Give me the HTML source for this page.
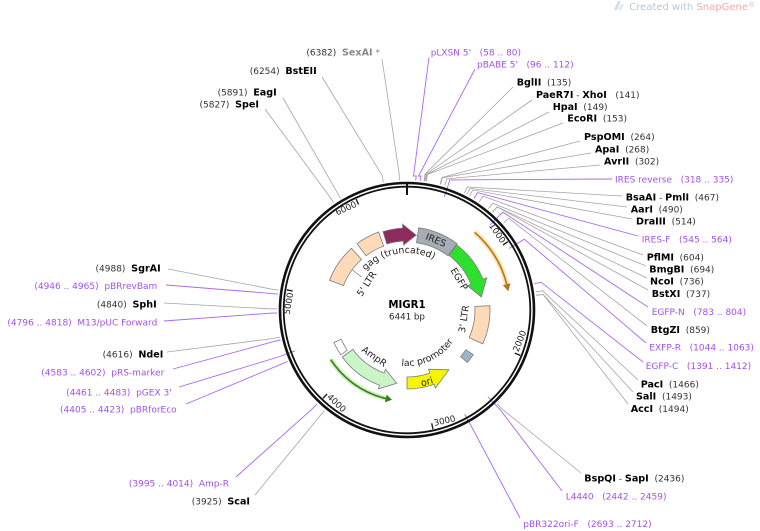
<!DOCTYPE html>
<html>
<head>
<meta charset="utf-8">
<style>
html,body{margin:0;padding:0;background:#fff;}
svg{display:block;}
text{font-family:"DejaVu Sans","Liberation Sans",sans-serif;}
.n{font-size:9px;fill:#333;}
.b{font-size:9.6px;font-weight:bold;fill:#000;}
.p{font-size:9px;fill:#a152e6;}
.gl{fill:none;stroke:#a4a4a4;stroke-width:0.8;}
.pl{fill:none;stroke:#ad66ee;stroke-width:0.9;}
.tk{font-size:8.7px;fill:#222;}
.fl{font-size:9.4px;fill:#222;}
.feat{stroke:#7c7c7c;stroke-width:0.8;}
</style>
</head>
<body>
<svg width="760" height="531" viewBox="0 0 760 531" xmlns="http://www.w3.org/2000/svg">
<rect width="760" height="531" fill="#fff"/>

<!-- SnapGene watermark -->
<polygon points="614,10 618,1 621,1 617,10" fill="#cfe0ec"/>
<polygon points="618,10 622,4 624,4 621,10" fill="#dbe8f1"/>
<text x="629.3" y="10" style="font-size:10px"><tspan fill="#b7c9d7">Created with </tspan><tspan fill="#f2abab">SnapGene</tspan><tspan fill="#b7c9d7" style="font-size:7px" dy="-3">®</tspan></text>

<!-- leader lines: gray -->
<polyline class="gl" points="513,87 425.0,174.2 424.1,181.1"/>
<polyline class="gl" points="532,100 425.8,174.3 424.8,181.2"/>
<polyline class="gl" points="549,112 426.8,174.4 425.8,181.4"/>
<polyline class="gl" points="563,123 427.4,174.5 426.3,181.4"/>
<polyline class="gl" points="580,141 441.9,177.5 440.1,184.3"/>
<polyline class="gl" points="591,153 442.4,177.7 440.6,184.4"/>
<polyline class="gl" points="600,165 446.8,178.9 444.7,185.6"/>
<polyline class="gl" points="622,196 467.3,187.0 464.2,193.3"/>
<polyline class="gl" points="627,207 470.0,188.4 466.8,194.6"/>
<polyline class="gl" points="632,219 472.8,189.9 469.5,196.0"/>
<polyline class="gl" points="643,255 483.1,196.1 479.2,201.9"/>
<polyline class="gl" points="646,266 492.8,203.2 488.4,208.7"/>
<polyline class="gl" points="647,278 497.1,206.8 492.5,212.1"/>
<polyline class="gl" points="648,290 497.2,206.9 492.6,212.2"/>
<polyline class="gl" points="647,326 508.8,218.3 503.6,223.0"/>
<polyline class="gl" points="638,380 542.6,290.8 535.7,291.8"/>
<polyline class="gl" points="633,392 543.1,294.4 536.2,295.2"/>
<polyline class="gl" points="628,404 543.1,294.5 536.2,295.3"/>
<polyline class="gl" points="581,473 501.9,408.8 497.0,403.8"/>
<polyline class="gl" points="382,59 399.1,173.2 399.5,180.2"/>
<polyline class="gl" points="322,77 382.1,175.3 383.4,182.2"/>
<polyline class="gl" points="283,98 337.0,192.2 340.5,198.3"/>
<polyline class="gl" points="265,109 329.8,196.9 333.7,202.6"/>
<polyline class="gl" points="168,269 271.6,289.1 278.5,290.1"/>
<polyline class="gl" points="164,303 270.0,308.8 277.0,308.8"/>
<polyline class="gl" points="167,352 273.0,338.5 279.8,337.1"/>
<polyline class="gl" points="255,495 320.1,415.9 324.5,410.5"/>

<!-- leader lines: purple (primers) -->
<polyline class="pl" points="429,57.5 413.5,176 416.2,176 415.7,180.3"/>
<polyline class="pl" points="475,69 418.5,176 421,176 420.2,180.7"/>
<polyline class="pl" points="612,179 449.9,179.9 444.3,196.9"/>
<polyline class="pl" points="638,236 477.6,192.6 474.0,198.6"/>
<polyline class="pl" points="648,307 502.8,212.1 490.2,224.9"/>
<polyline class="pl" points="646,343 524.3,239.2 508.9,248.5"/>
<polyline class="pl" points="643,362 541.2,282.3 534.3,283.7"/>
<polyline class="pl" points="562,491 500.5,410.1 488.2,397.0"/>
<polyline class="pl" points="520,518 473.3,429.9 464.6,414.1"/>
<polyline class="pl" points="166,285 271.0,293.4 278.0,294.2"/>
<polyline class="pl" points="164,321 270.0,313.2 277.0,313.0"/>
<polyline class="pl" points="173,369 273.7,341.6 280.5,340.0"/>
<polyline class="pl" points="179,387 278.3,357.0 295.2,350.8"/>
<polyline class="pl" points="186,404 281.2,364.2 287.6,361.4"/>
<polyline class="pl" points="236,477 312.2,408.9 317.0,403.8"/>

<!-- backbone -->
<circle cx="407" cy="310" r="127" fill="none" stroke="#111" stroke-width="2.6"/>
<circle cx="407" cy="310" r="123.3" fill="none" stroke="#111" stroke-width="1.8"/>
<line x1="407" y1="183" x2="407" y2="195" stroke="#111" stroke-width="2"/>

<!-- ticks -->
<g stroke="#222" stroke-width="1.4">
<line x1="508.0" y1="241.6" x2="503.0" y2="245.0"/>
<line x1="520.3" y1="355.3" x2="514.7" y2="353.1"/>
<line x1="433.0" y1="429.2" x2="431.7" y2="423.3"/>
<line x1="322.9" y1="398.4" x2="327.1" y2="394.0"/>
<line x1="286.7" y1="289.9" x2="292.6" y2="290.9"/>
<line x1="356.1" y1="199.1" x2="358.6" y2="204.6"/>
</g>
<text class="tk" transform="translate(502.2,245.5) rotate(55.89)" text-anchor="end" x="-2">1000</text>
<text class="tk" transform="translate(517.5,354.2) rotate(-68.22)" x="2">2000</text>
<text class="tk" transform="translate(432.4,426.3) rotate(-12.32)" x="2">3000</text>
<text class="tk" transform="translate(325.0,396.2) rotate(43.57)" x="2">4000</text>
<text class="tk" transform="translate(293.6,291.1) rotate(-80.54)" text-anchor="end" x="-2">5000</text>
<text class="tk" transform="translate(359.0,205.5) rotate(-24.65)" text-anchor="end" x="-2">6000</text>

<!-- ORF arrows -->
<path d="M474.6,232.3 A103,103 0 0 1 507.0,285.1" fill="none" stroke="#fcd48c" stroke-width="5" stroke-opacity="0.7"/>
<path d="M474.6,232.3 A103,103 0 0 1 507.0,285.1" fill="none" stroke="#b07a1c" stroke-width="1.6"/>
<polygon points="508.3,291.2 502.8,285.2 510.6,283.2" fill="#b07a1c"/>
<path d="M330.7,359.6 A91,91 0 0 0 386.5,398.7" fill="none" stroke="#bff0a8" stroke-width="5" stroke-opacity="0.8"/>
<path d="M330.7,359.6 A91,91 0 0 0 386.5,398.7" fill="none" stroke="#3a7d22" stroke-width="1.6"/>
<polygon points="392.0,399.8 386.7,394.6 384.8,402.4" fill="#3a7d22"/>

<!-- features -->
<path class="feat" fill="#fedbb8" d="M329.5,280.3 A83,83 0 0 1 351.5,248.3 L361.5,259.5 A68,68 0 0 0 343.5,285.6 Z"/>
<path class="feat" fill="#fedbb8" d="M357.0,243.7 A83,83 0 0 1 378.6,232.0 L383.7,246.1 A68,68 0 0 0 366.1,255.7 Z"/>
<path class="feat" fill="#8e2b5e" d="M383.0,231.6 A82,82 0 0 1 402.7,228.1 L402.5,224.1 L416.2,235.1 L403.6,245.1 L403.4,241.1 A69,69 0 0 0 386.8,244.0 Z"/>
<path class="feat" fill="#a7adb5" d="M418.6,227.8 A83,83 0 0 1 457.0,243.7 L447.9,255.7 A68,68 0 0 0 416.5,242.7 Z"/>
<path class="feat" fill="#2de02d" d="M456.9,244.9 A82,82 0 0 1 483.0,279.3 L486.7,277.8 L481.4,296.9 L467.3,285.6 L471.0,284.2 A69,69 0 0 0 449.0,255.3 Z"/>
<path class="feat" fill="#fedbb8" d="M489.9,305.7 A83,83 0 0 1 482.8,343.8 L469.1,337.7 A68,68 0 0 0 474.9,306.4 Z"/>
<path class="feat" fill="#9fb6c6" d="M473.3,354.7 A80,80 0 0 1 467.4,362.5 L460.6,356.6 A71,71 0 0 0 465.9,349.7 Z"/>
<path class="feat" fill="#f5f500" d="M407,389 A79,79 0 0 0 434.0,384.2 L435.4,388.0 L448.9,369.8 L428.5,369.2 L429.9,373.0 A67,67 0 0 1 407,377 Z"/>
<path class="feat" fill="#c9f5c9" d="M342.3,357.0 A80,80 0 0 0 379.6,385.2 L378.3,388.9 L396.7,383.3 L385.5,369.2 L384.1,373.0 A67,67 0 0 1 352.8,349.4 Z"/>
<path class="feat" fill="#ffffff" d="M340.7,354.7 A80,80 0 0 1 333.9,342.5 L341.2,339.3 A72,72 0 0 0 347.3,350.3 Z"/>
<line x1="351.7" y1="269.4" x2="361.7" y2="277.1" stroke="#888" stroke-width="0.8"/>

<!-- feature labels -->
<defs>
<path id="gagp" d="M357.6,281.5 A57,57 0 0 1 450.7,273.4"/>
<path id="lacp" d="M379.0,358.5 A56,56 0 0 0 462.1,319.7"/>
</defs>
<text class="fl"><textPath href="#gagp" startOffset="46%" text-anchor="middle">gag (truncated)</textPath></text>
<text class="fl"><textPath href="#lacp" startOffset="50%" text-anchor="middle">lac promoter</textPath></text>
<text class="fl" transform="translate(434.7,243.0) rotate(22.5)" text-anchor="middle">IRES</text>
<text class="fl" transform="translate(456.4,280.6) rotate(59.2)" text-anchor="middle">EGFP</text>
<text class="fl" transform="translate(467.0,319.5) rotate(-81)" text-anchor="middle">3' LTR</text>
<text class="fl" transform="translate(369.3,285.5) rotate(-57)" text-anchor="middle">5' LTR</text>
<text class="fl" transform="translate(372.5,359.1) rotate(35.1)" text-anchor="middle">AmpR</text>
<text class="fl" transform="translate(427.7,384.7) rotate(-15.5)" text-anchor="middle">ori</text>

<text x="407" y="308" text-anchor="middle" style="font-size:10.2px;font-weight:bold;fill:#000">MIGR1</text>
<text x="407" y="319.5" text-anchor="middle" style="font-size:8.7px;fill:#222">6441 bp</text>

<!-- right labels -->
<text class="p" x="430.7" y="55.5">pLXSN 5'&#160;&#160;&#160;(58 .. 80)</text>
<text class="p" x="477" y="67.5">pBABE 5'&#160;&#160;&#160;(96 .. 112)</text>
<text x="516.7" y="85.5"><tspan class="b">BglII</tspan><tspan class="n">&#160;&#160;(135)</tspan></text>
<text x="536" y="98"><tspan class="b">PaeR7I</tspan><tspan class="n">&#160;-&#160;</tspan><tspan class="b">XhoI</tspan><tspan class="n">&#160;&#160;&#160;(141)</tspan></text>
<text x="552.7" y="110"><tspan class="b">HpaI</tspan><tspan class="n">&#160;&#160;(149)</tspan></text>
<text x="567.3" y="121.7"><tspan class="b">EcoRI</tspan><tspan class="n">&#160;&#160;(153)</tspan></text>
<text x="584" y="140"><tspan class="b">PspOMI</tspan><tspan class="n">&#160;&#160;(264)</tspan></text>
<text x="595" y="152.3"><tspan class="b">ApaI</tspan><tspan class="n">&#160;&#160;(268)</tspan></text>
<text x="604" y="164.7"><tspan class="b">AvrII</tspan><tspan class="n">&#160;&#160;(302)</tspan></text>
<text class="p" x="615" y="182.3">IRES reverse&#160;&#160;&#160;(318 .. 335)</text>
<text x="625.7" y="200.7"><tspan class="b">BsaAI</tspan><tspan class="n">&#160;-&#160;</tspan><tspan class="b">PmlI</tspan><tspan class="n">&#160;&#160;(467)</tspan></text>
<text x="630.7" y="212.3"><tspan class="b">AarI</tspan><tspan class="n">&#160;&#160;(490)</tspan></text>
<text x="636" y="224.7"><tspan class="b">DraIII</tspan><tspan class="n">&#160;&#160;(514)</tspan></text>
<text class="p" x="641.7" y="242.7">IRES-F&#160;&#160;&#160;(545 .. 564)</text>
<text x="646.7" y="260.7"><tspan class="b">PflMI</tspan><tspan class="n">&#160;&#160;(604)</tspan></text>
<text x="649.3" y="272.3"><tspan class="b">BmgBI</tspan><tspan class="n">&#160;&#160;(694)</tspan></text>
<text x="650" y="284.7"><tspan class="b">NcoI</tspan><tspan class="n">&#160;&#160;(736)</tspan></text>
<text x="651.7" y="297"><tspan class="b">BstXI</tspan><tspan class="n">&#160;&#160;(737)</tspan></text>
<text class="p" x="651.7" y="315">EGFP-N&#160;&#160;&#160;(783 .. 804)</text>
<text x="650.7" y="333"><tspan class="b">BtgZI</tspan><tspan class="n">&#160;&#160;(859)</tspan></text>
<text class="p" x="649.3" y="350.3">EXFP-R&#160;&#160;&#160;(1044 .. 1063)</text>
<text class="p" x="645.7" y="369">EGFP-C&#160;&#160;&#160;(1391 .. 1412)</text>
<text x="640.7" y="387.3"><tspan class="b">PacI</tspan><tspan class="n">&#160;&#160;(1466)</tspan></text>
<text x="636" y="399.7"><tspan class="b">SalI</tspan><tspan class="n">&#160;&#160;(1493)</tspan></text>
<text x="630.7" y="412"><tspan class="b">AccI</tspan><tspan class="n">&#160;&#160;(1494)</tspan></text>
<text x="584.3" y="481.3"><tspan class="b">BspQI</tspan><tspan class="n">&#160;-&#160;</tspan><tspan class="b">SapI</tspan><tspan class="n">&#160;&#160;(2436)</tspan></text>
<text class="p" x="565.7" y="499.7">L4440&#160;&#160;&#160;(2442 .. 2459)</text>
<text class="p" x="523.3" y="527">pBR322ori-F&#160;&#160;&#160;(2693 .. 2712)</text>

<!-- left labels -->
<text x="380" y="55.7" text-anchor="end"><tspan class="n">(6382)&#160;&#160;</tspan><tspan class="b" style="fill:#8a8a8a">SexAI</tspan><tspan class="n" style="fill:#8a8a8a">&#160;*</tspan></text>
<text x="316.7" y="74" text-anchor="end"><tspan class="n">(6254)&#160;&#160;</tspan><tspan class="b">BstEII</tspan></text>
<text x="276.7" y="95.3" text-anchor="end"><tspan class="n">(5891)&#160;&#160;</tspan><tspan class="b">EagI</tspan></text>
<text x="259" y="107.3" text-anchor="end"><tspan class="n">(5827)&#160;&#160;</tspan><tspan class="b">SpeI</tspan></text>
<text x="160.7" y="271.3" text-anchor="end"><tspan class="n">(4988)&#160;&#160;</tspan><tspan class="b">SgrAI</tspan></text>
<text class="p" x="157.3" y="289" text-anchor="end">(4946 .. 4965)&#160;&#160;pBRrevBam</text>
<text x="156.7" y="307.3" text-anchor="end"><tspan class="n">(4840)&#160;&#160;</tspan><tspan class="b">SphI</tspan></text>
<text class="p" x="157.3" y="325.3" text-anchor="end">(4796 .. 4818)&#160;&#160;M13/pUC Forward</text>
<text x="163.3" y="357.3" text-anchor="end"><tspan class="n">(4616)&#160;&#160;</tspan><tspan class="b">NdeI</tspan></text>
<text class="p" x="164.3" y="375.7" text-anchor="end">(4583 .. 4602)&#160;&#160;pRS-marker</text>
<text class="p" x="171.7" y="395.7" text-anchor="end">(4461 .. 4483)&#160;&#160;pGEX 3'</text>
<text class="p" x="176.7" y="412.3" text-anchor="end">(4405 .. 4423)&#160;&#160;pBRforEco</text>
<text class="p" x="229" y="486.3" text-anchor="end">(3995 .. 4014)&#160;&#160;Amp-R</text>
<text x="250" y="504.7" text-anchor="end"><tspan class="n">(3925)&#160;&#160;</tspan><tspan class="b">ScaI</tspan></text>
</svg>
</body>
</html>
